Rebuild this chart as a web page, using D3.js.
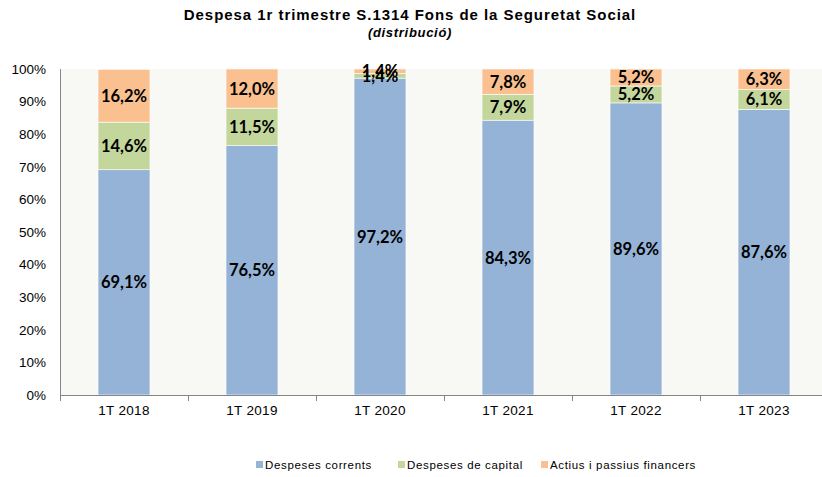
<!DOCTYPE html>
<html><head><meta charset="utf-8">
<script src="https://cdn.jsdelivr.net/npm/d3@7"></script>
<style>body{margin:0;background:#fff}svg{display:block}</style>
</head><body><svg id="c" width="822" height="477"></svg>
<script>
const categories = ["1T 2018","1T 2019","1T 2020","1T 2021","1T 2022","1T 2023"];
const seriesNames = ["Despeses corrents","Despeses de capital","Actius i passius financers"];
const despesesCorrents = [69.1,76.5,97.2,84.3,89.6,87.6];
const despesesCapital = [14.6,11.5,1.4,7.9,5.2,6.1];
const actiusPassius = [16.2,12.0,1.4,7.8,5.2,6.3];
const yTicks = [0,10,20,30,40,50,60,70,80,90,100];
const colors = ["#95B3D7","#C3D69B","#FAC090"];

const svg = d3.select("#c");
const L=60, R=828, T=69, B=395;
const x = d3.scaleBand().domain(categories).range([L,R]).paddingInner(0.594).paddingOuter(0.297);
const y = d3.scaleLinear().domain([0,100]).range([B,T]);

svg.append("rect").attr("x",L).attr("y",T).attr("width",R-L).attr("height",B-T).attr("fill","#F8F8F4");

const rows = categories.map((c,i)=>({cat:c, s0:despesesCorrents[i], s1:despesesCapital[i], s2:actiusPassius[i]}));
const stack = d3.stack().keys(["s0","s1","s2"])(rows);

const fmt = v => d3.format(".1f")(v).replace(".",",")+"%";

stack.forEach((layer,k)=>{
  svg.append("g").selectAll("rect").data(layer).join("rect")
    .attr("x",d=>x(d.data.cat)).attr("width",x.bandwidth())
    .attr("y",d=>y(Math.min(d[1],100))).attr("height",d=>y(d[0])-y(Math.min(d[1],100)))
    .attr("fill",colors[k]).attr("stroke","#fff").attr("stroke-width",0.6);
});
stack.forEach((layer,k)=>{
  svg.append("g").selectAll("text").data(layer).join("text")
    .attr("x",d=>x(d.data.cat)+x.bandwidth()/2)
    .attr("y",d=>(y(d[0])+y(Math.min(d[1],100)))/2)
    .attr("dy","0.36em").attr("text-anchor","middle")
    .attr("font-family","Lato, 'Open Sans', sans-serif").attr("font-weight","bold").attr("font-size",16.5)
    .attr("fill","#000").text(d=>fmt(d[1]-d[0]));
});

// axes
const ax = svg.append("g").attr("stroke","#868686").attr("stroke-width",1);
ax.append("line").attr("x1",L+0.5).attr("x2",L+0.5).attr("y1",T).attr("y2",B+0.5);
ax.append("line").attr("x1",L).attr("x2",R).attr("y1",B+0.5).attr("y2",B+0.5);
const bounds = categories.map(c=>x(c)-x.step()*x.paddingInner()/2);
ax.selectAll(".tk").data(bounds.concat([R])).join("line")
  .attr("x1",d=>Math.round(d)+0.5).attr("x2",d=>Math.round(d)+0.5).attr("y1",B).attr("y2",B+6);

svg.append("g").selectAll("text").data(yTicks).join("text")
  .attr("x",46).attr("y",d=>y(d)).attr("dy","0.36em").attr("text-anchor","end")
  .attr("font-family","Liberation Sans, Arial, sans-serif").attr("font-size",13.5).attr("fill","#000")
  .text(d=>d+"%");

svg.append("g").selectAll("text").data(categories).join("text")
  .attr("x",d=>x(d)+x.bandwidth()/2).attr("y",415).attr("text-anchor","middle")
  .attr("font-family","Liberation Sans, Arial, sans-serif").attr("font-size",13.5).attr("letter-spacing","0.3").attr("fill","#000")
  .text(d=>d);

svg.append("text").attr("x",410).attr("y",20).attr("text-anchor","middle")
  .attr("font-family","Liberation Sans, Arial, sans-serif").attr("font-weight","bold").attr("font-size",15)
  .attr("letter-spacing","0.95").text("Despesa 1r trimestre S.1314 Fons de la Seguretat Social");
svg.append("text").attr("x",410).attr("y",37).attr("text-anchor","middle")
  .attr("font-family","Liberation Sans, Arial, sans-serif").attr("font-weight","bold").attr("font-style","italic").attr("font-size",13)
  .attr("letter-spacing","0.7").text("(distribució)");

const legX = [256,398,541];
const lg = svg.append("g");
seriesNames.forEach((n,i)=>{
  lg.append("rect").attr("x",legX[i]).attr("y",461).attr("width",7).attr("height",7).attr("fill",colors[i]);
  lg.append("text").attr("x",legX[i]+9).attr("y",469)
    .attr("font-family","Liberation Sans, Arial, sans-serif").attr("font-size",11.5).attr("letter-spacing","0.65").text(n);
});
</script></body></html>
